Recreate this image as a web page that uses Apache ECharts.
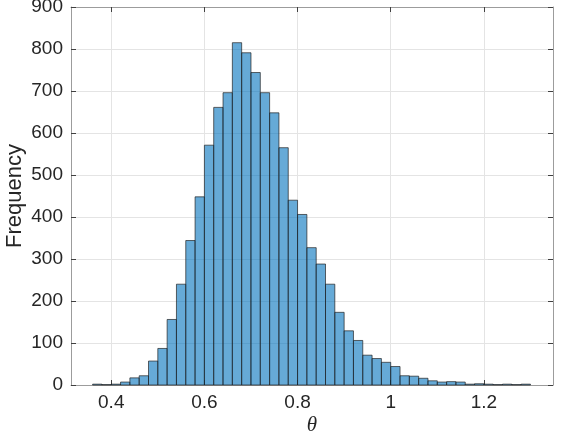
<!DOCTYPE html>
<html>
<head>
<meta charset="utf-8">
<script src="https://cdn.jsdelivr.net/npm/echarts@6/dist/echarts.min.js"></script>
<style>
    html, body { margin: 0; padding: 0; background: #fff; }
    #histo { width: 568px; height: 435px; }
</style>
</head>
<body>
<div id="histo"></div>
<script>
    // bin left edges (width 0.02) and counts
    var binStarts = [0.36, 0.38, 0.40, 0.42, 0.44, 0.46, 0.48, 0.50, 0.52, 0.54,
                     0.56, 0.58, 0.60, 0.62, 0.64, 0.66, 0.68, 0.70, 0.72, 0.74,
                     0.76, 0.78, 0.80, 0.82, 0.84, 0.86, 0.88, 0.90, 0.92, 0.94,
                     0.96, 0.98, 1.00, 1.02, 1.04, 1.06, 1.08, 1.10, 1.12, 1.14,
                     1.16, 1.18, 1.20, 1.22, 1.24, 1.26, 1.28];
    var counts = [2, 1, 2, 7, 17, 22, 57, 87, 156, 240,
                  344, 448, 571, 661, 696, 815, 791, 744, 696, 648,
                  565, 440, 406, 327, 288, 240, 173, 129, 106, 71,
                  63, 54, 44, 22, 21, 16, 10, 7, 8, 7,
                  2, 3, 2, 1, 2, 1, 2];
    var binWidth = 0.02;
    var xTicks = [0.4, 0.6, 0.8, 1.0, 1.2];

    var chart = echarts.init(document.getElementById('histo'));

    var histData = [];
    for (var i = 0; i < binStarts.length; i++) {
        histData.push([binStarts[i], binStarts[i] + binWidth, counts[i]]);
    }

    var labelFont = 'Liberation Sans, Arial, sans-serif';

    var option = {
        backgroundColor: '#fff',
        animation: false,
        grid: { left: 71, right: 15, top: 7, bottom: 50, outerBoundsMode: 'none' },
        xAxis: [
            {
                type: 'value',
                min: 0.3136,
                max: 1.3484,
                name: 'θ',
                nameLocation: 'middle',
                nameGap: 30,
                nameMoveOverlap: false,
                nameTextStyle: {
                    fontFamily: 'Liberation Serif, DejaVu Serif, serif',
                    fontStyle: 'italic',
                    fontSize: 21,
                    color: '#262626'
                },
                axisLine: { show: true, onZero: false, lineStyle: { color: '#9c9c9c', width: 1 } },
                axisTick: { show: true, inside: true, length: 5, customValues: xTicks, lineStyle: { color: '#404040' } },
                axisLabel: {
                    customValues: xTicks,
                    margin: 8,
                    fontSize: 19,
                    fontFamily: labelFont,
                    color: '#262626'
                },
                splitLine: { show: true, lineStyle: { color: '#e4e4e4', width: 1 } }
            },
            {
                type: 'value',
                position: 'top',
                min: 0.3136,
                max: 1.3484,
                axisLine: { show: true, onZero: false, lineStyle: { color: '#9c9c9c', width: 1 } },
                axisTick: { show: true, inside: true, length: 5, customValues: xTicks, lineStyle: { color: '#404040' } },
                axisLabel: { show: false },
                splitLine: { show: false }
            }
        ],
        yAxis: [
            {
                type: 'value',
                min: 0,
                max: 900,
                interval: 100,
                name: 'Frequency',
                nameLocation: 'middle',
                nameGap: 45,
                nameMoveOverlap: false,
                nameTextStyle: {
                    fontFamily: labelFont,
                    fontSize: 22,
                    color: '#262626'
                },
                axisLine: { show: true, lineStyle: { color: '#9c9c9c', width: 1 } },
                axisTick: { show: true, inside: true, length: 5, lineStyle: { color: '#404040' } },
                axisLabel: {
                    margin: 8,
                    fontSize: 19,
                    fontFamily: labelFont,
                    color: '#262626'
                },
                splitLine: { show: true, lineStyle: { color: '#e4e4e4', width: 1 } }
            },
            {
                type: 'value',
                position: 'right',
                min: 0,
                max: 900,
                interval: 100,
                axisLine: { show: true, lineStyle: { color: '#9c9c9c', width: 1 } },
                axisTick: { show: true, inside: true, length: 5, lineStyle: { color: '#404040' } },
                axisLabel: { show: false },
                splitLine: { show: false }
            }
        ],
        series: [
            {
                type: 'custom',
                xAxisIndex: 0,
                yAxisIndex: 0,
                data: histData,
                encode: { x: [0, 1], y: 2 },
                renderItem: function (params, api) {
                    var topLeft = api.coord([api.value(0), api.value(2)]);
                    var bottomRight = api.coord([api.value(1), 0]);
                    return {
                        type: 'rect',
                        shape: {
                            x: topLeft[0],
                            y: topLeft[1],
                            width: bottomRight[0] - topLeft[0],
                            height: bottomRight[1] - topLeft[1]
                        },
                        style: {
                            fill: 'rgba(0,114,189,0.6)',
                            stroke: 'rgba(30,30,30,0.85)',
                            lineWidth: 0.8
                        }
                    };
                }
            }
        ]
    };

    chart.setOption(option);
</script>
</body>
</html>
